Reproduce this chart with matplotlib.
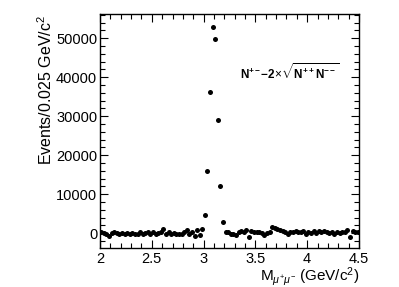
import numpy as np
import matplotlib
matplotlib.use("Agg")
import matplotlib.pyplot as plt
from matplotlib.ticker import MultipleLocator

plt.rcParams['font.family'] = ['Liberation Sans', 'DejaVu Sans']
plt.rcParams['mathtext.fontset'] = 'custom'
plt.rcParams['mathtext.rm'] = 'Liberation Sans'
plt.rcParams['mathtext.it'] = 'Liberation Sans:italic'
plt.rcParams['mathtext.bf'] = 'Liberation Sans:bold'

# bin centers (0.025 GeV bins from 2.0 to 4.5)
mass = np.arange(2.0125, 4.5, 0.025)
events = [
    300, 100, -300, -600, 100, 300, 0, -200, 100, -100,
    0, -200, 100, -100, -300, 200, -200, 0, 200, -100,
    300, -100, 100, 400, 1100, -300, 200, -200, 0, -300,
    -100, -200, 300, 700, -300, 400, -600, 900, -400, 1200,
    4600, 16000, 36200, 52800, 49700, 29000, 12200, 2800, 200, 300,
    -100, -300, -400, 200, 600, 200, 700, -900, 500, 400,
    300, 200, 0, -500, 100, 300, 1500, 1400, 1100, 800,
    500, 300, -100, 400, 200, 500, 300, 200, 500, -100,
    200, 100, 500, 0, 600, 200, 500, 300, 100, 400,
    -200, 300, 0, 200, 400, 800, -900, 500, 300, 200,
]

fig = plt.figure(figsize=(3.99, 2.87), dpi=100)
ax = fig.add_axes([0.2506, 0.1359, 0.6491, 0.8136])
ax.plot(mass, events, 'o', color='black', markersize=3.6, markeredgewidth=0)

ax.set_xlim(2.0, 4.5)
ax.set_ylim(-3800, 56100)
ax.xaxis.set_major_locator(MultipleLocator(0.5))
ax.xaxis.set_minor_locator(MultipleLocator(0.1))
ax.yaxis.set_major_locator(MultipleLocator(10000))
ax.yaxis.set_minor_locator(MultipleLocator(2000))
ax.tick_params(which='both', direction='in', top=True, right=True,
               labelsize=10.5, width=0.8)
ax.tick_params(which='major', length=6)
ax.tick_params(which='minor', length=3.5)
ax.tick_params(axis='x', pad=3)
ax.tick_params(axis='y', pad=2)
ax.xaxis.set_major_formatter(matplotlib.ticker.FuncFormatter(lambda v, p: f"{v:g}"))
for s in ax.spines.values():
    s.set_linewidth(1.0)

ax.set_ylabel(r'Events/0.025 GeV/c$^{2}$', fontsize=11.5, loc='top', labelpad=1)
ax.set_xlabel(r'M$_{\mu^{+}\mu^{-}}$ (GeV/c$^{2}$)', fontsize=11, loc='right', labelpad=-1)

ax.text(0.927, 0.754, r'$\mathbf{N^{+-}\!\!-\!2}\!\times\!\sqrt{\mathbf{N^{++}N^{--}}}$',
        transform=ax.transAxes, ha='right', va='center', fontsize=8.5)

fig.savefig('out.png', dpi=100)
